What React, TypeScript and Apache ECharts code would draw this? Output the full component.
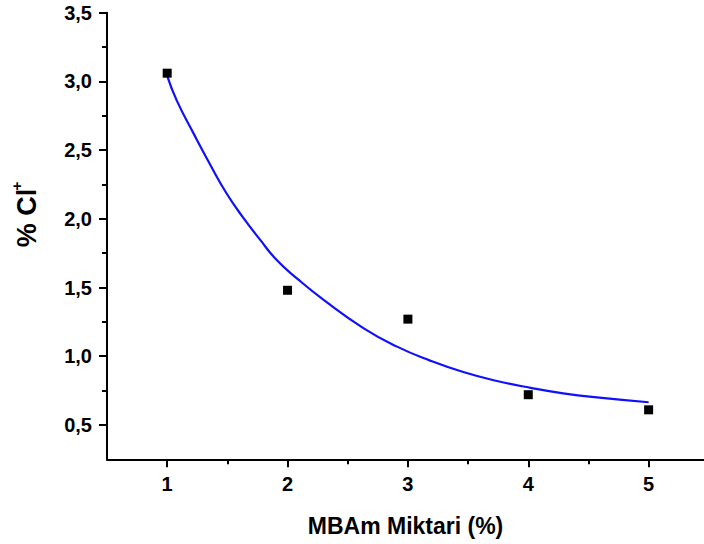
import React, { useEffect, useRef } from "react";
import * as echarts from "echarts";

// Measured data points
const pointX = [1, 2, 3, 4, 5];
const pointY = [3.06, 1.48, 1.27, 0.72, 0.61];

// Fitted curve
const curveX = [1.0, 1.08, 1.22, 1.36, 1.49, 1.63, 1.77, 1.91, 2.08, 2.3, 2.63, 2.91, 3.18, 3.46, 3.74, 4.02, 4.29, 4.57, 5.0];
const curveY = [3.04, 2.86, 2.62, 2.39, 2.19, 2.01, 1.85, 1.7, 1.565, 1.41, 1.205, 1.07, 0.97, 0.885, 0.82, 0.77, 0.73, 0.7, 0.665];

// Axis ticks
const xMajor = [1, 2, 3, 4, 5];
const xMinor = [1.5, 2.5, 3.5, 4.5];
const yMajor = [0.5, 1.0, 1.5, 2.0, 2.5, 3.0, 3.5];
const yMinor = [0.75, 1.25, 1.75, 2.25, 2.75, 3.25];

const xTitle = "MBAm Miktari (%)";
const yTitle = "% Cl";
const ySup = "+";

const FONT = "Liberation Sans";

export default function App() {
  const ref = useRef<HTMLDivElement>(null);
  useEffect(() => {
    if (!ref.current) return;
    const chart = echarts.init(ref.current, undefined, { renderer: "svg" });
    const lineStyle = { color: "#000", width: 2 };
    const axisLine = { show: true, lineStyle };
    const xRange = { min: 0.5, max: 5.46 };
    const yRange = { min: 0.25, max: 3.5 };
    const labelStyle = { color: "#000", fontFamily: FONT, fontWeight: "bold", fontSize: 20 };
    chart.setOption({
      animation: false,
      backgroundColor: "#fff",
      grid: { left: 107, right: 0, top: 12.7, bottom: 84.7, containLabel: false },
      xAxis: [
        {
          type: "value",
          ...xRange,
          position: "bottom",
          axisLine,
          splitLine: { show: false },
          axisTick: { show: true, length: 8, customValues: xMajor, lineStyle },
          axisLabel: { customValues: xMajor, margin: 15, ...labelStyle },
          name: xTitle,
          nameLocation: "middle",
          nameGap: 55,
          nameTextStyle: { color: "#000", fontFamily: FONT, fontWeight: "bold", fontSize: 23 },
        },
        {
          type: "value",
          ...xRange,
          position: "bottom",
          axisLine: { show: false },
          splitLine: { show: false },
          axisTick: { show: true, length: 5, customValues: xMinor, lineStyle },
          axisLabel: { show: false },
        },
      ],
      yAxis: [
        {
          type: "value",
          ...yRange,
          position: "left",
          axisLine,
          splitLine: { show: false },
          axisTick: { show: true, length: 8, customValues: yMajor, lineStyle },
          axisLabel: {
            customValues: yMajor,
            margin: 15,
            ...labelStyle,
            formatter: (v: number) => v.toFixed(1).replace(".", ","),
          },
        },
        {
          type: "value",
          ...yRange,
          position: "left",
          axisLine: { show: false },
          splitLine: { show: false },
          axisTick: { show: true, length: 5, customValues: yMinor, lineStyle },
          axisLabel: { show: false },
        },
      ],
      graphic: [
        {
          type: "text",
          x: 27,
          y: 218,
          rotation: Math.PI / 2,
          style: {
            text: yTitle,
            align: "center",
            verticalAlign: "middle",
            fontFamily: FONT,
            fontWeight: "bold",
            fontSize: 27,
            fill: "#000",
          },
        },
        {
          type: "text",
          x: 16,
          y: 186,
          rotation: Math.PI / 2,
          style: {
            text: ySup,
            align: "center",
            verticalAlign: "middle",
            fontFamily: FONT,
            fontWeight: "bold",
            fontSize: 15,
            fill: "#000",
          },
        },
      ],
      series: [
        {
          type: "line",
          data: curveX.map((x, i) => [x, curveY[i]]),
          smooth: 0.5,
          showSymbol: false,
          symbol: "none",
          lineStyle: { color: "#1010ff", width: 2.2 },
          z: 2,
        },
        {
          type: "scatter",
          data: pointX.map((x, i) => [x, pointY[i]]),
          symbol: "rect",
          symbolSize: 9,
          itemStyle: { color: "#000", opacity: 1 },
          z: 3,
        },
      ],
    });
    return () => chart.dispose();
  }, []);
  return (
    <div
      ref={ref}
      style={{ position: "absolute", left: 0, top: 0, width: 704, height: 544 }}
    />
  );
}
